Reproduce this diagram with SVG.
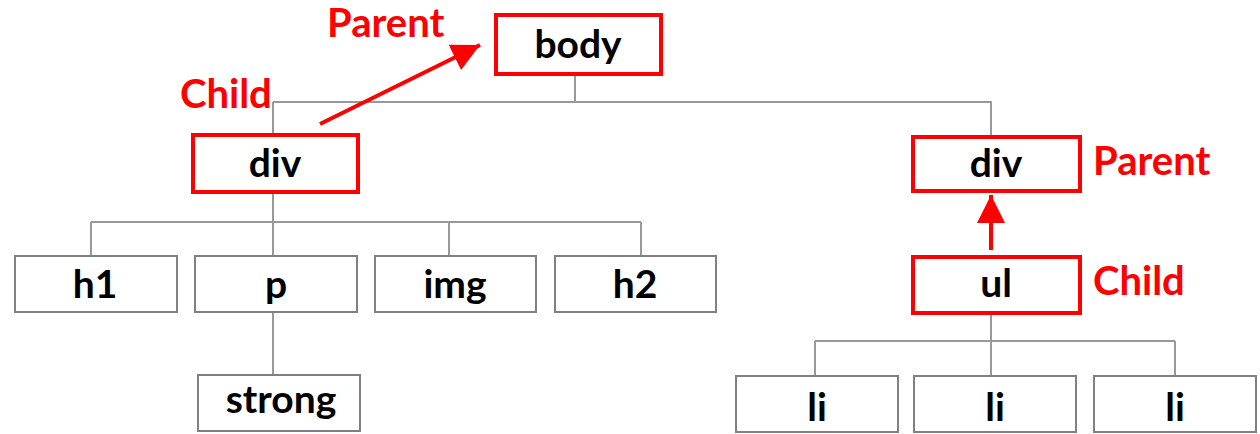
<svg xmlns="http://www.w3.org/2000/svg" width="1260" height="434" viewBox="0 0 1260 434">
<style>
.box{fill:#fff;stroke:#808080;stroke-width:2}
.hl{fill:#fff;stroke:#ff0000;stroke-width:4}
.lbl{font-family:Lato,"Liberation Sans",sans-serif;font-weight:700;font-size:39px;fill:#000;text-anchor:middle}
.red{font-family:Lato,"Liberation Sans",sans-serif;font-weight:700;font-size:40px;fill:#ff0000}
.ln{fill:none;stroke:#999;stroke-width:2}
.arr{fill:none;stroke:#ff0000;stroke-width:4}
</style>
<defs>
<marker id="ah" markerUnits="userSpaceOnUse" markerWidth="30" markerHeight="30" refX="28" refY="14" orient="auto" viewBox="0 0 30 30">
<path d="M0,0 L28,14 L0,28 z" fill="#ff0000"/>
</marker>
</defs>
<g id="connectors">
<path class="ln" d="M575,75 V102 M273,102 H991 V136 M273,102 V134"/>
<path class="ln" d="M273,193 V222 M91,222 H641 M91,222 V256 M273,222 V256 M449,222 V256 M641,222 V256"/>
<path class="ln" d="M273,312 V375"/>
<path class="ln" d="M991,314 V376 M815,341 H1175 M815,341 V376 M1175,341 V376"/>
</g>
<g id="node-body"><rect class="hl" x="496" y="15" width="165" height="59"/><text class="lbl" x="578" y="58">body</text></g>
<g id="node-div1"><rect class="hl" x="193" y="135" width="165" height="57"/><text class="lbl" x="275" y="177">div</text></g>
<g id="node-div2"><rect class="hl" x="913" y="137" width="167" height="54"/><text class="lbl" x="996" y="177">div</text></g>
<g id="node-ul"><rect class="hl" x="913" y="257" width="167" height="56"/><text class="lbl" x="996" y="297">ul</text></g>
<g id="node-h1"><rect class="box" x="15" y="256" width="162" height="56"/><text class="lbl" x="95" y="298">h1</text></g>
<g id="node-p"><rect class="box" x="195" y="256" width="162" height="56"/><text class="lbl" x="276" y="298">p</text></g>
<g id="node-img"><rect class="box" x="375" y="256" width="161" height="56"/><text class="lbl" x="455" y="298">img</text></g>
<g id="node-h2"><rect class="box" x="555" y="256" width="161" height="56"/><text class="lbl" x="635" y="298">h2</text></g>
<g id="node-strong"><rect class="box" x="198" y="375" width="162" height="56"/><text class="lbl" x="281" y="413">strong</text></g>
<g id="node-li1"><rect class="box" x="736" y="376" width="162" height="56"/><text class="lbl" x="817" y="421">li</text></g>
<g id="node-li2"><rect class="box" x="914" y="376" width="162" height="56"/><text class="lbl" x="995" y="421">li</text></g>
<g id="node-li3"><rect class="box" x="1094" y="376" width="162" height="56"/><text class="lbl" x="1175" y="421">li</text></g>
<g id="annotations">
<path class="arr" d="M320,124 L480,45" marker-end="url(#ah)"/>
<path class="arr" d="M991,250 V195" marker-end="url(#ah)"/>
<text class="red" x="327" y="37">Parent</text>
<text class="red" x="180" y="108">Child</text>
<text class="red" x="1093" y="175">Parent</text>
<text class="red" x="1093" y="295">Child</text>
</g>
</svg>
